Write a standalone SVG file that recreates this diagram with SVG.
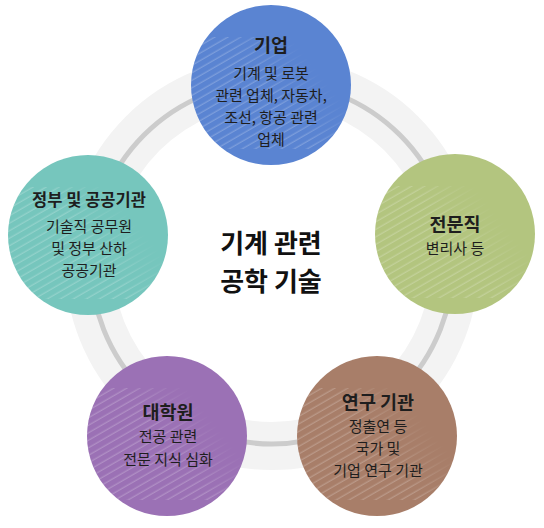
<svg xmlns="http://www.w3.org/2000/svg" width="544" height="528" viewBox="0 0 544 528">
  <style>
    text { font-family: "Noto Sans CJK KR", "Noto Sans", sans-serif; fill: #1e1e1e; text-anchor: middle; }
    .t { font-size: 18.5px; font-weight: 700; }
    .b { font-size: 15px; font-weight: 400; }
    .c { font-size: 26px; font-weight: 700; fill: #111; }
    .hatch { fill: url(#hp); mask: url(#hm); }
  </style>
  <defs>
    <pattern id="hp" patternUnits="userSpaceOnUse" width="20" height="6.5" patternTransform="rotate(-30)">
      <line x1="0" y1="3" x2="20" y2="3" stroke="#ffffff" stroke-opacity="0.25" stroke-width="1.1"/>
    </pattern>
    <linearGradient id="hg" x1="0.05" y1="0.75" x2="0.95" y2="0.25">
      <stop offset="0" stop-color="#fff" stop-opacity="1"/>
      <stop offset="0.5" stop-color="#fff" stop-opacity="1"/>
      <stop offset="0.85" stop-color="#fff" stop-opacity="0"/>
    </linearGradient>
    <mask id="hm" maskContentUnits="objectBoundingBox">
      <rect x="0" y="0.2" width="1" height="0.7" fill="url(#hg)"/>
    </mask>
  </defs>

  <g id="connectors">
    <circle cx="272" cy="263" r="183" fill="none" stroke="#f3f3f3" stroke-width="48"/>
    <circle cx="272" cy="263" r="181" fill="none" stroke="#cccccc" stroke-width="5"/>
  </g>

  <g id="center">
    <text class="c" x="271" y="253">기계 관련</text>
    <text class="c" x="271" y="291">공학 기술</text>
  </g>

  <g id="node-company">
    <circle cx="271" cy="85" r="80" fill="#5a84d2"/>
    <circle cx="271" cy="85" r="80" class="hatch"/>
    <text class="t" x="271" y="52">기업</text>
    <text class="b" x="271" y="79">기계 및 로봇</text>
    <text class="b" x="271" y="101">관련 업체, 자동차,</text>
    <text class="b" x="271" y="123">조선, 항공 관련</text>
    <text class="b" x="271" y="145">업체</text>
  </g>

  <g id="node-professional">
    <circle cx="455" cy="234" r="80" fill="#b3c57f"/>
    <circle cx="455" cy="234" r="80" class="hatch"/>
    <text class="t" x="455" y="231">전문직</text>
    <text class="b" x="455" y="254">변리사 등</text>
  </g>

  <g id="node-government">
    <circle cx="88" cy="235" r="80" fill="#76c6bd"/>
    <circle cx="88" cy="235" r="80" class="hatch"/>
    <text class="t" x="89" y="206" style="font-size:16.5px">정부 및 공공기관</text>
    <text class="b" x="89" y="232">기술직 공무원</text>
    <text class="b" x="89" y="254">및 정부 산하</text>
    <text class="b" x="89" y="276">공공기관</text>
  </g>

  <g id="node-gradschool">
    <circle cx="167" cy="436" r="80" fill="#9b71b5"/>
    <circle cx="167" cy="436" r="80" class="hatch"/>
    <text class="t" x="168" y="419">대학원</text>
    <text class="b" x="168" y="442">전공 관련</text>
    <text class="b" x="168" y="465">전문 지식 심화</text>
  </g>

  <g id="node-research">
    <circle cx="377" cy="436" r="80" fill="#a87e69"/>
    <circle cx="377" cy="436" r="80" class="hatch"/>
    <text class="t" x="378" y="409">연구 기관</text>
    <text class="b" x="378" y="432">정출연 등</text>
    <text class="b" x="378" y="454">국가 및</text>
    <text class="b" x="378" y="476">기업 연구 기관</text>
  </g>
</svg>
